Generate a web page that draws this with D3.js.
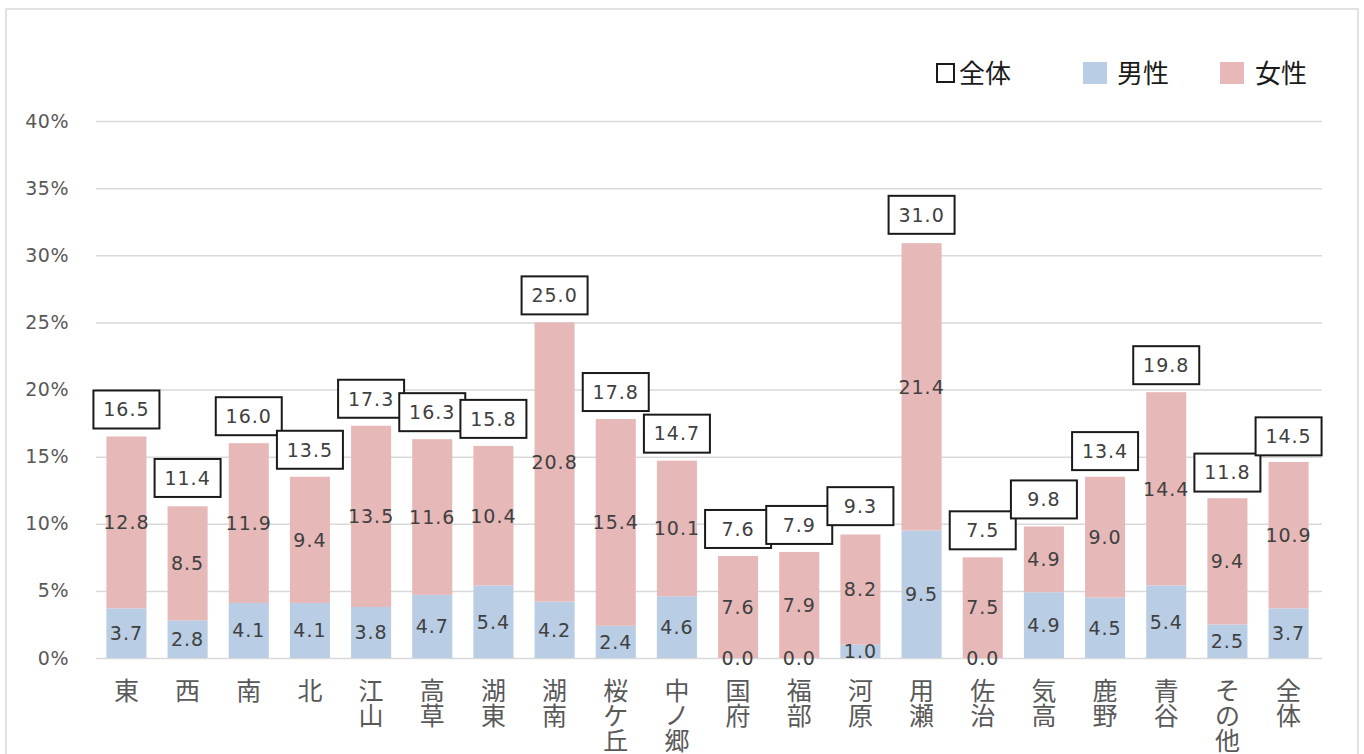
<!DOCTYPE html>
<html lang="ja">
<head>
<meta charset="utf-8">
<script src="https://cdn.jsdelivr.net/npm/d3@7"></script>
<style>
  html, body { margin: 0; padding: 0; background: #fff; }
  svg { display: block; }
</style>
</head>
<body>
<svg id="chart" width="1364" height="754"></svg>
<script>
// 地区別の割合（%）：男性・女性の積み上げと全体
const categories = ["東", "西", "南", "北", "江山", "高草", "湖東", "湖南", "桜ケ丘", "中ノ郷",
                    "国府", "福部", "河原", "用瀬", "佐治", "気高", "鹿野", "青谷", "その他", "全体"];
const maleValues   = [3.7, 2.8, 4.1, 4.1, 3.8, 4.7, 5.4, 4.2, 2.4, 4.6, 0.0, 0.0, 1.0, 9.5, 0.0, 4.9, 4.5, 5.4, 2.5, 3.7];
const femaleValues = [12.8, 8.5, 11.9, 9.4, 13.5, 11.6, 10.4, 20.8, 15.4, 10.1, 7.6, 7.9, 8.2, 21.4, 7.5, 4.9, 9.0, 14.4, 9.4, 10.9];
const totalValues  = [16.5, 11.4, 16.0, 13.5, 17.3, 16.3, 15.8, 25.0, 17.8, 14.7, 7.6, 7.9, 9.3, 31.0, 7.5, 9.8, 13.4, 19.8, 11.8, 14.5];
const yTicks = [0, 5, 10, 15, 20, 25, 30, 35, 40];
const seriesNames = ["全体", "男性", "女性"];

const colors = { male: "#B9CDE5", female: "#E6B9B8", grid: "#D9D9D9", axisText: "#595959", label: "#404040" };
const numFont = "'DejaVu Sans', sans-serif";
const cjkFont = "'Noto Sans CJK JP', sans-serif";

const svg = d3.select("#chart");

// chart frame
svg.append("rect")
  .attr("x", 6).attr("y", 9).attr("width", 1352).attr("height", 760)
  .attr("fill", "#fff").attr("stroke", colors.grid).attr("stroke-width", 1.5);

const plot = { left: 96, right: 1319, top: 121, bottom: 658 };

const x = d3.scaleBand()
  .domain(categories)
  .range([plot.left, plot.right])
  .paddingInner(0.345)
  .paddingOuter(0.17);

const y = d3.scaleLinear().domain([0, 40]).range([plot.bottom, plot.top]);

// gridlines and y tick labels
const yAxis = d3.axisLeft(y)
  .tickValues(yTicks)
  .tickSize(-(plot.right - plot.left + 3))
  .tickFormat(d => d + "%");

const gy = svg.append("g")
  .attr("transform", `translate(${plot.left},0)`)
  .call(yAxis);
gy.select(".domain").remove();
gy.selectAll(".tick line").attr("stroke", colors.grid).attr("stroke-width", 1.5);
gy.selectAll(".tick text")
  .attr("x", -27)
  .attr("fill", colors.axisText)
  .style("font-family", numFont)
  .style("font-size", "19px")
  .style("letter-spacing", "0.5px");

// stacked bars
const rows = categories.map((c, i) => ({ cat: c, male: maleValues[i], female: femaleValues[i], total: totalValues[i] }));
const stack = d3.stack().keys(["male", "female"]);
const layers = stack(rows);

svg.append("g").selectAll("g")
  .data(layers)
  .join("g")
  .attr("fill", d => colors[d.key])
  .selectAll("rect")
  .data(d => d)
  .join("rect")
  .attr("x", d => x(d.data.cat))
  .attr("width", x.bandwidth())
  .attr("y", d => y(d[1]))
  .attr("height", d => y(d[0]) - y(d[1]));

// segment value labels
svg.append("g").selectAll("g")
  .data(layers)
  .join("g")
  .selectAll("text")
  .data(d => d.map(v => ({ v, key: d.key })))
  .join("text")
  .attr("x", d => x(d.v.data.cat) + x.bandwidth() / 2)
  .attr("y", d => (y(d.v[0]) + y(d.v[1])) / 2)
  .attr("dy", "0.36em")
  .attr("text-anchor", "middle")
  .attr("fill", colors.label)
  .style("font-family", numFont)
  .style("font-size", "19px")
  .style("letter-spacing", "1px")
  .text(d => d.v.data[d.key].toFixed(1));

// boxed total labels above each bar
const boxW = 66, boxH = 38, boxGap = 8;
const totals = svg.append("g");
rows.forEach(r => {
  const cx = x(r.cat) + x.bandwidth() / 2;
  const bottom = y(r.total) - boxGap;
  const g = totals.append("g");
  g.append("rect")
    .attr("x", cx - boxW / 2).attr("y", bottom - boxH)
    .attr("width", boxW).attr("height", boxH)
    .attr("fill", "#fff").attr("stroke", "#1a1a1a").attr("stroke-width", 2);
  g.append("text")
    .attr("x", cx).attr("y", bottom - boxH / 2)
    .attr("dy", "0.36em")
    .attr("text-anchor", "middle")
    .attr("fill", colors.label)
    .style("font-family", numFont)
    .style("font-size", "19px")
    .style("letter-spacing", "1px")
    .text(r.total.toFixed(1));
});

// vertical category labels, one character per line
const xl = svg.append("g");
categories.forEach(c => {
  const t = xl.append("text")
    .attr("text-anchor", "middle")
    .attr("fill", colors.axisText)
    .style("font-family", cjkFont)
    .style("font-size", "25px");
  Array.from(c).forEach((ch, k) => {
    t.append("tspan")
      .attr("x", x(c) + x.bandwidth() / 2)
      .attr("y", 700 + k * 25)
      .text(ch);
  });
});

// legend
const legend = svg.append("g").style("font-family", cjkFont).style("font-size", "26px").attr("fill", "#1a1a1a");
legend.append("rect").attr("x", 937).attr("y", 64).attr("width", 17).attr("height", 18)
  .attr("fill", "none").attr("stroke", "#1a1a1a").attr("stroke-width", 2);
legend.append("text").attr("x", 959).attr("y", 83).text(seriesNames[0]);
legend.append("rect").attr("x", 1083).attr("y", 62).attr("width", 24).attr("height", 22).attr("fill", colors.male);
legend.append("text").attr("x", 1117).attr("y", 83).text(seriesNames[1]);
legend.append("rect").attr("x", 1220).attr("y", 62).attr("width", 24).attr("height", 22).attr("fill", colors.female);
legend.append("text").attr("x", 1255).attr("y", 83).text(seriesNames[2]);
</script>
</body>
</html>
